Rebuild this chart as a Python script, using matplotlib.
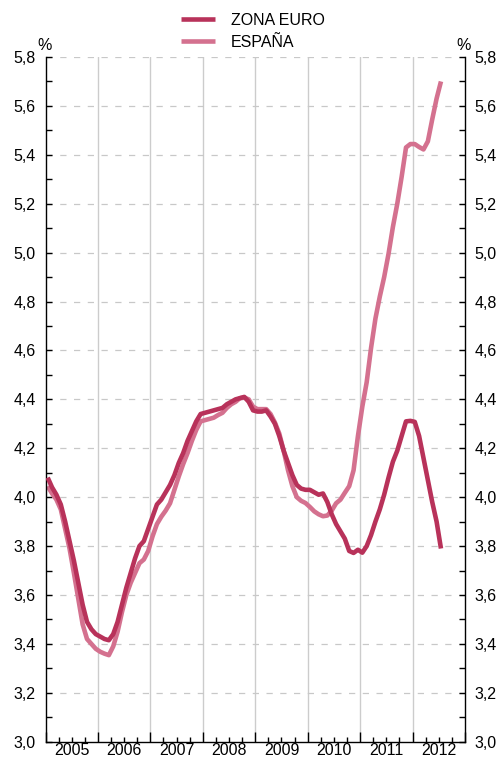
import matplotlib
matplotlib.use("Agg")
import matplotlib.pyplot as plt
import numpy as np
from matplotlib.ticker import MultipleLocator, FuncFormatter

plt.rcParams['font.family'] = ['Liberation Sans', 'DejaVu Sans']

start_year = 2005
years = [2005, 2006, 2007, 2008, 2009, 2010, 2011, 2012]
series_names = ["ZONA EURO", "ESPAÑA"]

zona_euro = [
    4.08, 4.04, 4.01, 3.97, 3.90, 3.82, 3.74, 3.65, 3.56, 3.49, 3.46, 3.44,
    3.43, 3.42, 3.415, 3.44, 3.49, 3.56, 3.63, 3.69, 3.75, 3.80, 3.82, 3.87,
    3.92, 3.97, 3.99, 4.02, 4.05, 4.09, 4.14, 4.18, 4.23, 4.27, 4.31, 4.34,
    4.345, 4.35, 4.355, 4.36, 4.365, 4.38, 4.39, 4.40, 4.405, 4.41, 4.39, 4.355,
    4.35, 4.35, 4.355, 4.33, 4.30, 4.25, 4.19, 4.14, 4.09, 4.05, 4.035, 4.03,
    4.03, 4.02, 4.01, 4.015, 3.98, 3.93, 3.89, 3.86, 3.83, 3.78, 3.772, 3.785,
    3.773, 3.80, 3.845, 3.90, 3.95, 4.01, 4.08, 4.145, 4.19, 4.25, 4.31, 4.312,
    4.308, 4.25, 4.16, 4.07, 3.98, 3.90, 3.79,
]

espana = [
    4.045, 4.015, 3.99, 3.95, 3.87, 3.79, 3.69, 3.585, 3.48, 3.42, 3.40, 3.38,
    3.368, 3.36, 3.354, 3.39, 3.45, 3.53, 3.60, 3.65, 3.69, 3.73, 3.745, 3.78,
    3.84, 3.89, 3.92, 3.945, 3.975, 4.03, 4.085, 4.135, 4.18, 4.23, 4.275, 4.31,
    4.315, 4.32, 4.325, 4.336, 4.345, 4.365, 4.38, 4.39, 4.405, 4.407, 4.40, 4.37,
    4.36, 4.36, 4.36, 4.34, 4.305, 4.26, 4.19, 4.11, 4.045, 4.00, 3.985, 3.976,
    3.96, 3.942, 3.93, 3.922, 3.925, 3.945, 3.975, 3.99, 4.018, 4.045, 4.11, 4.25,
    4.37, 4.47, 4.61, 4.73, 4.82, 4.90, 4.995, 5.105, 5.20, 5.31, 5.43, 5.444,
    5.444, 5.432, 5.422, 5.455, 5.545, 5.63, 5.70,
]

colors = ["#b8325a", "#d4718f"]
FS = 11.5

W, H = 497, 758
fig = plt.figure(figsize=(W / 100, H / 100), dpi=100)
ax = fig.add_axes([45.5 / W, 1 - 741.7 / H, (465 - 45.5) / W, (741.7 - 57) / H])

x = start_year + (np.arange(len(zona_euro)) + 0.5) / 12.0

for xv in range(2006, 2013):
    ax.axvline(xv, color="#cccccc", lw=1.0, zorder=1)
for yv in np.arange(3.2, 5.81, 0.2):
    ax.axhline(yv, color="#c8c8c8", lw=0.9, ls=(0, (5, 6)), zorder=1)

ln1, = ax.plot(x, zona_euro, color=colors[0], lw=3.3, solid_capstyle='butt', zorder=3)
ln2, = ax.plot(x[:len(espana)], espana, color=colors[1], lw=3.3, solid_capstyle='butt', zorder=2)

ax.set_xlim(2005, 2013)
ax.set_ylim(3.0, 5.8)

ax.spines['top'].set_visible(False)
for s in ['left', 'right', 'bottom']:
    ax.spines[s].set_color('black')
    ax.spines[s].set_linewidth(1.0)

ax.yaxis.set_major_locator(MultipleLocator(0.2))
ax.yaxis.set_minor_locator(MultipleLocator(0.1))
ax.yaxis.set_major_formatter(FuncFormatter(lambda v, p: f"{v:.1f}".replace('.', ',')))
ax.tick_params(axis='y', which='both', direction='in', left=True, right=True,
               labelleft=True, labelright=True, labelsize=FS, pad=7, width=1)
ax.tick_params(axis='y', which='major', length=4)
ax.tick_params(axis='y', which='minor', length=4)

ax.set_xticks(range(2005, 2014))
ax.set_xticks(np.arange(2005, 2013.01, 0.25), minor=True)
ax.tick_params(axis='x', which='both', direction='in', labelbottom=False, top=False, width=1)
ax.tick_params(axis='x', which='major', length=7)
ax.tick_params(axis='x', which='minor', length=3.5)

for yr in years:
    ax.annotate(str(yr), xy=(yr + 0.5, 0), xycoords=('data', 'axes fraction'),
                xytext=(0, -6.0), textcoords='offset points', ha='center', va='center',
                fontsize=FS)

ax.annotate('%', xy=(0, 1), xycoords='axes fraction', xytext=(-1, 3),
            textcoords='offset points', ha='center', va='bottom', fontsize=FS)
ax.annotate('%', xy=(1, 1), xycoords='axes fraction', xytext=(-1, 3),
            textcoords='offset points', ha='center', va='bottom', fontsize=FS)

fig.legend([ln1, ln2], series_names, loc='upper left',
           bbox_to_anchor=(181 / W, 1 - 13 / H), frameon=False, fontsize=FS,
           handlelength=2.1, handletextpad=1.0, labelspacing=0.42, borderpad=0,
           borderaxespad=0)

fig.savefig("out.png", dpi=100)
